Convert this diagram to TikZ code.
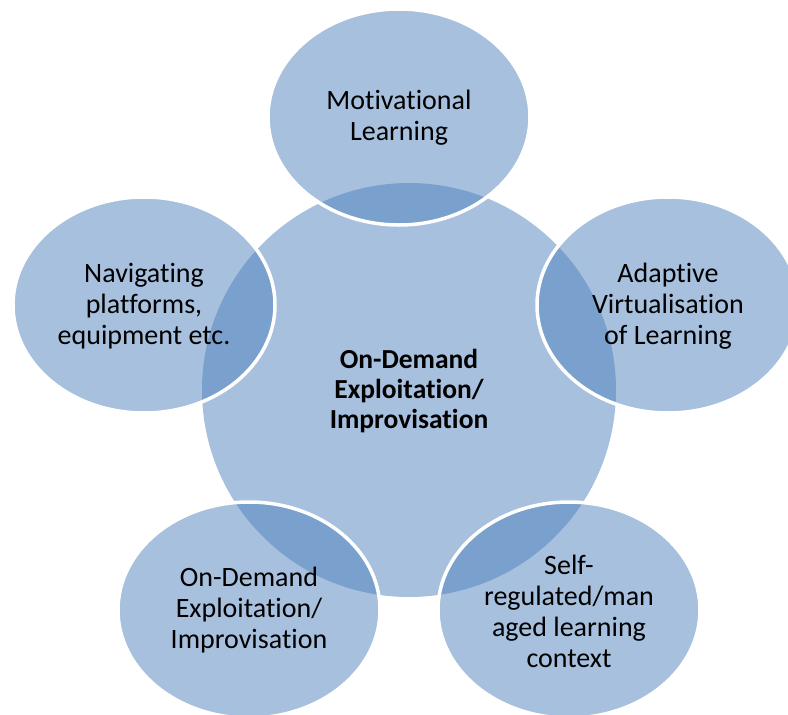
\documentclass[tikz,border=0pt]{standalone}
\usepackage{fontspec}
\setmainfont{Carlito}[Ligatures=NoCommon]
\usetikzlibrary{shapes.geometric}
\definecolor{blu}{HTML}{4F81BD}
\begin{document}
\begin{tikzpicture}[x=1pt,y=-1pt,
  hub/.style={circle, fill=blu, fill opacity=0.5, draw=none, minimum size=414pt, inner sep=0pt},
  sat/.style={ellipse, fill=blu, fill opacity=0.5, draw=white, draw opacity=1, line width=3.5pt, minimum width=262pt, minimum height=216pt, inner sep=0pt},
  lbl/.style={align=center, text=black, font=\fontsize{28}{31}\selectfont, inner sep=0pt},
  hublbl/.style={lbl, font=\fontsize{27.5}{30}\selectfont\bfseries}]
\useasboundingbox (0,0) rectangle (788,715);
\node[hub] (c) at (409,390) {};
\node[sat] (s1) at (399,117) {};
\node[sat] (s2) at (668,305) {};
\node[sat] (s3) at (569,610) {};
\node[sat] (s4) at (249,610) {};
\node[sat] (s5) at (144,305) {};
\node[hublbl] (tc) at (409,391) {On-Demand\\Exploitation/\\Improvisation};
\node[lbl] (t1) at (399,118) {Motivational\\Learning};
\node[lbl] (t2) at (668,306) {Adaptive\\Virtualisation\\of Learning};
\node[lbl] (t3) at (569,611) {Self-\\regulated/man\\aged learning\\context};
\node[lbl] (t4) at (249,610) {On-Demand\\Exploitation/\\Improvisation};
\node[lbl] (t5) at (144,306) {Navigating\\platforms,\\equipment etc.};
\end{tikzpicture}
\end{document}
